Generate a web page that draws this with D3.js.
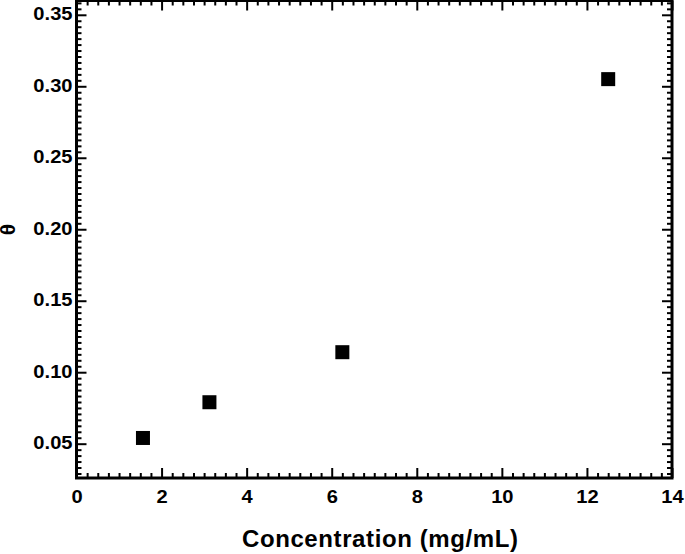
<!DOCTYPE html>
<html>
<head>
<meta charset="utf-8">
<script src="https://cdn.jsdelivr.net/npm/d3@7"></script>
<style>
  body { margin: 0; background: #fff; }
  svg { display: block; }
  text { font-family: "Liberation Sans", Arial, sans-serif; font-weight: bold; fill: #000; }
</style>
</head>
<body>
<svg id="chart" width="685" height="554"></svg>
<script>
// ---- data ----
const concentration = [1.5625, 3.125, 6.25, 12.5];
const theta = [0.054, 0.079, 0.114, 0.305];
const xTickValues = [0, 2, 4, 6, 8, 10, 12, 14];
const yTickValues = [0.05, 0.10, 0.15, 0.20, 0.25, 0.30, 0.35];
const xTitle = "Concentration (mg/mL)";
const yTitle = "θ";

(function () {
// ---- layout ----
const pLeft = 76.5, pRight = 672, pTop = 0.5, pBottom = 478;

const svg = d3.select("#chart");
const x = d3.scaleLinear().domain([0, 14]).range([pLeft, pRight]);
const y = d3.scaleLinear().domain([0.026, 0.36]).range([pBottom, pTop]);

// minor ticks
const xMinor = d3.range(0, 14.0001, 0.25).filter(v => Math.abs(v / 2 - Math.round(v / 2)) > 1e-6);
const yStep = 0.05 / 12;
const yMinor = [];
for (let k = -10; k <= 80; k++) {
  const v = 0.05 + k * yStep;
  if (v >= 0.026 && v <= 0.36 && Math.abs((v / 0.05) - Math.round(v / 0.05)) > 1e-6) yMinor.push(v);
}

const MAJ = 10, MIN = 5;
const SX = 1.15;
const tickStyle = g => {
  g.select(".domain").remove();
  g.selectAll(".tick line").attr("stroke", "#000").attr("stroke-width", 2);
};

// bottom major with labels
svg.append("g").attr("transform", `translate(0,${pBottom})`)
  .call(d3.axisBottom(x).tickValues(xTickValues).tickSize(-MAJ).tickPadding(0).tickFormat(d3.format("d")))
  .call(tickStyle)
  .call(g => g.selectAll(".tick text").attr("y", 25.3).attr("dy", 0)
    .attr("transform", `scale(${SX},1)`).style("font-size", "17.5px"));
svg.append("g").attr("transform", `translate(0,${pBottom})`)
  .call(d3.axisBottom(x).tickValues(xMinor).tickSize(-MIN).tickFormat(""))
  .call(tickStyle);
// top mirrored
svg.append("g").attr("transform", `translate(0,${pTop})`)
  .call(d3.axisTop(x).tickValues(xTickValues).tickSize(-MAJ).tickFormat(""))
  .call(tickStyle);
svg.append("g").attr("transform", `translate(0,${pTop})`)
  .call(d3.axisTop(x).tickValues(xMinor).tickSize(-MIN).tickFormat(""))
  .call(tickStyle);

// left major with labels
svg.append("g").attr("transform", `translate(${pLeft},0)`)
  .call(d3.axisLeft(y).tickValues(yTickValues).tickSize(-MAJ).tickPadding(0).tickFormat(d3.format(".2f")))
  .call(tickStyle)
  .call(g => g.selectAll(".tick text").attr("x", -4 / SX).attr("dy", "0.28em")
    .attr("transform", `scale(${SX},1)`).style("font-size", "17.5px"));
svg.append("g").attr("transform", `translate(${pLeft},0)`)
  .call(d3.axisLeft(y).tickValues(yMinor).tickSize(-MIN).tickFormat(""))
  .call(tickStyle);
// right mirrored
svg.append("g").attr("transform", `translate(${pRight},0)`)
  .call(d3.axisRight(y).tickValues(yTickValues).tickSize(-MAJ).tickFormat(""))
  .call(tickStyle);
svg.append("g").attr("transform", `translate(${pRight},0)`)
  .call(d3.axisRight(y).tickValues(yMinor).tickSize(-MIN).tickFormat(""))
  .call(tickStyle);

// frame
svg.append("rect")
  .attr("x", pLeft).attr("y", pTop)
  .attr("width", pRight - pLeft).attr("height", pBottom - pTop)
  .attr("fill", "none").attr("stroke", "#000").attr("stroke-width", 3);

// points
const S = 14;
svg.append("g").selectAll("rect")
  .data(concentration.map((c, i) => ({ c, t: theta[i] })))
  .join("rect")
  .attr("x", d => x(d.c) - S / 2)
  .attr("y", d => y(d.t) - S / 2)
  .attr("width", S).attr("height", S)
  .attr("fill", "#000");

// titles
svg.append("text")
  .attr("x", (pLeft + pRight) / 2 + 6).attr("y", 547)
  .attr("text-anchor", "middle")
  .style("font-size", "24px").style("letter-spacing", "0.6px")
  .text(xTitle);

svg.append("text")
  .attr("transform", `translate(7.5,229.5) rotate(-90)`)
  .attr("text-anchor", "middle")
  .attr("dominant-baseline", "central")
  .style("font-size", "21px")
  .text(yTitle);
})();
</script>
</body>
</html>
